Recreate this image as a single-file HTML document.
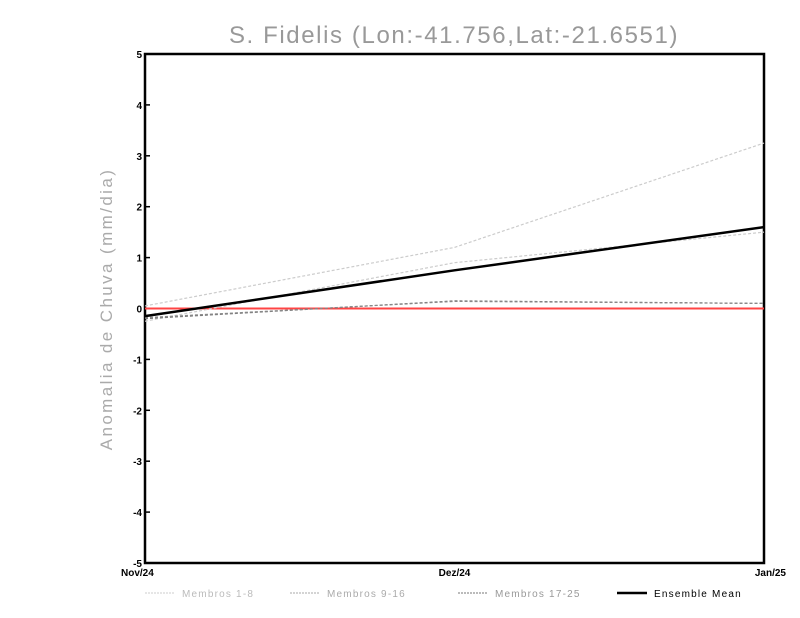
<!DOCTYPE html>
<html><head><meta charset="utf-8"><style>
body{margin:0;background:#fff}
svg{display:block;font-family:"Liberation Sans",sans-serif}
</style></head><body>
<svg id="chart" width="800" height="618">
<text x="454" y="43" text-anchor="middle" font-size="24" letter-spacing="1.6" fill="#999">S. Fidelis (Lon:-41.756,Lat:-21.6551)</text>
<text transform="translate(112,309) rotate(-90)" text-anchor="middle" font-size="17" letter-spacing="2.4" fill="#aaa">Anomalia de Chuva (mm/dia)</text>
<g id="plot"></g>
</svg>
<script>
const categories=["Nov/24","Dez/24","Jan/25"];
const yTicks=[5,4,3,2,1,0,-1,-2,-3,-4,-5];
const light1=[0.05,1.2,3.25];
const light2=[-0.25,0.9,1.5];
const dark1=[-0.2,0.15,0.1];
const dark2=[-0.18,0.14,0.1];
const ensemble=[-0.15,0.75,1.6];
const L=145,R=764,T=54,B=563;
const x=i=>L+(R-L)*i/(categories.length-1);
const y=v=>T+(5-v)*(B-T)/10;
const g=document.getElementById('plot');
const NS='http://www.w3.org/2000/svg';
function mk(t,a){const e=document.createElementNS(NS,t);for(const k in a)e.setAttribute(k,a[k]);g.appendChild(e);return e;}
const frame=mk('rect',{x:L,y:T,width:R-L,height:B-T,fill:'none',stroke:'#000','stroke-width':2.5});


yTicks.forEach(v=>{
 const t=mk('line',{x1:L,x2:L+5,y1:y(v),y2:y(v),stroke:'#000','stroke-width':1.5});
 
 
 const tx=mk('text',{x:L-3,y:y(v)+4,'text-anchor':'end','font-size':10,'font-weight':'bold'});
 tx.textContent=v;
 
 
});
categories.forEach((c,i)=>{
 const tx=mk('text',{x:x(i),y:B+13,'text-anchor':i==0?'start':i==2?'end':'middle','font-size':10,'font-weight':'bold'});
 if(i==0)tx.setAttribute('x',x(i)-24); if(i==2)tx.setAttribute('x',x(i)+22);
 tx.textContent=c;
 
 
});
const zero=mk('line',{x1:L,x2:R,y1:y(0),y2:y(0),stroke:'#f44','stroke-width':2});


function series(d,col,w,dash,name){
 const p=mk('polyline',{points:d.map((v,i)=>x(i)+','+y(v)).join(' '),fill:'none',stroke:col,'stroke-width':w,'stroke-dasharray':dash});
 
 
}
series(light1,'#ccc',1.2,'3,2','member-line-1');
series(light2,'#ccc',1.2,'3,2','member-line-2');
series(dark1,'#777',1.2,'3,2','member-line-3');
series(dark2,'#888',1.2,'3,2','member-line-4');
series(ensemble,'#000',2.5,'','ensemble-mean-line');
const leg=[["Membros 1-8","#ccc",145,"#bbb"],["Membros 9-16","#aaa",290,"#aaa"],["Membros 17-25","#777",458,"#999"],["Ensemble Mean","#000",617,"#000"]];
leg.forEach(l=>{
 const ln=mk('line',{x1:l[2],x2:l[2]+30,y1:593,y2:593,stroke:l[1],'stroke-width':l[1]=='#000'?2.5:1,'stroke-dasharray':l[1]=='#000'?'':'2,1'});
 
 
 const t=mk('text',{x:l[2]+37,y:597,'font-size':10,'letter-spacing':1.2,fill:l[3]});
 t.textContent=l[0];
 
 
});
</script>
</body></html>
